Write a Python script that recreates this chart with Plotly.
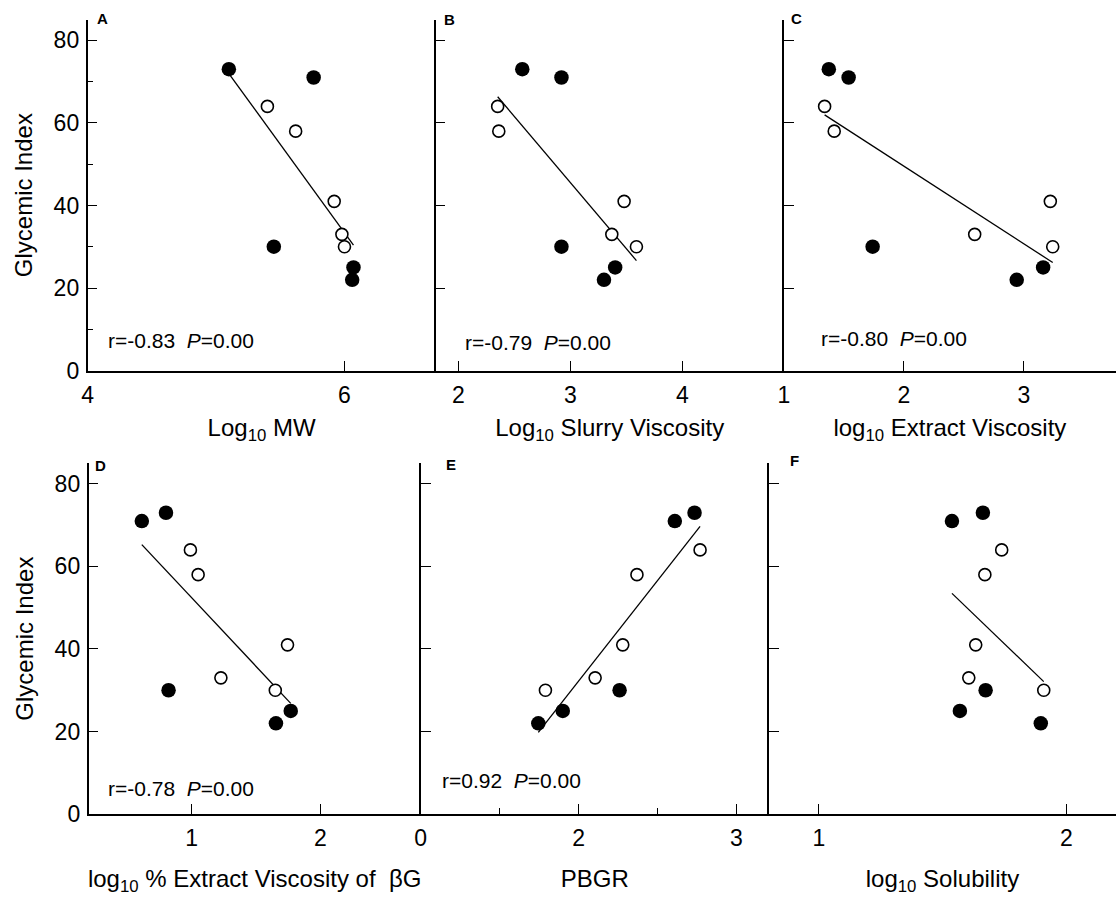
import numpy as np
import plotly.graph_objects as go

# ---------------- data ----------------
gi_filled = [73, 71, 30, 25, 22]
gi_open = [64, 58, 41, 33, 30]

a_filled = [5.10, 5.76, 5.45, 6.07, 6.06]
a_open = [5.40, 5.62, 5.92, 5.98, 6.00]
b_filled = [2.57, 2.92, 2.92, 3.40, 3.30]
b_open = [2.35, 2.36, 3.48, 3.37, 3.59]
c_filled = [1.375, 1.54, 1.74, 3.16, 2.94]
c_open = [1.34, 1.42, 3.22, 2.59, 3.24]
d_filled = [0.80, 0.612, 0.82, 1.77, 1.655]
d_open = [0.99, 1.05, 1.745, 1.227, 1.65]
e_filled = [2.735, 2.61, 2.26, 1.90, 1.745]
e_open = [2.77, 2.37, 2.28, 2.105, 1.79]
f_filled = [1.663, 1.538, 1.674, 1.570, 1.897]
f_open = [1.739, 1.671, 1.634, 1.606, 1.909]

panel_letters = ["A", "B", "C", "D", "E", "F"]
x_titles = ["Log<sub>10</sub> MW", "Log<sub>10</sub> Slurry Viscosity",
            "log<sub>10</sub> Extract Viscosity",
            "log<sub>10</sub> % Extract Viscosity of\u00a0 \u03b2G", "PBGR",
            "log<sub>10</sub> Solubility"]
stats_text = ["r=-0.83\u00a0 <i>P</i>=0.00", "r=-0.79\u00a0 <i>P</i>=0.00",
              "r=-0.80\u00a0 <i>P</i>=0.00", "r=-0.78\u00a0 <i>P</i>=0.00",
              "r=0.92\u00a0 <i>P</i>=0.00", ""]
y_title = "Glycemic Index"
y_ticks_major = [0, 20, 40, 60, 80]
y_ticks_minor = [10, 30, 50, 70]
x_tickvals = [[4, 6], [2, 3, 4], [1, 2, 3], [1, 2], [1.0, 2, 3], [1, 2]]
x_ticktext = [["4", "6"], ["2", "3", "4"], ["1", "2", "3"], ["1", "2"],
              ["0", "2", "3"], ["1", "2"]]
e_minor_ticks = [1.5, 2.5]
x_ranges = [[4.0, 6.71], [1.796, 4.907], [1.0, 3.767],
            [0.198, 2.781], [1.0, 3.206], [0.798, 2.201]]
y_range = [0, 85]

panels_filled = [a_filled, b_filled, c_filled, d_filled, e_filled, f_filled]
panels_open = [a_open, b_open, c_open, d_open, e_open, f_open]

# ---------------- layout geometry (pixels) ----------------
W, H = 1116, 901
FONT = "Liberation Sans, Arial, Helvetica, sans-serif"
col_px = [(82, 432), (432, 782), (782, 1116), (83, 417), (417, 767), (767, 1116)]
row_px = [(20, 376), (20, 376), (20, 376), (470, 826), (470, 826), (470, 826)]
letter_px = [(97, 19), (446, 20), (795, 19), (95, 472), (447, 471), (793, 467)]
stats_px = [(101, 345), (459, 348), (817, 343), (101, 800), (436, 792), (0, 0)]
x_title_standoff = [12, 12, 12, 20, 20, 20]

fig = go.Figure()
layout = dict(
    width=W, height=H, margin=dict(l=0, r=0, t=0, b=0),
    paper_bgcolor="white", plot_bgcolor="white", showlegend=False,
    font=dict(family=FONT, color="black"),
)
annotations = []

for i in range(6):
    n = "" if i == 0 else str(i + 1)
    xa, ya = "x" + n, "y" + n
    xs_f, xs_o = panels_filled[i], panels_open[i]
    # regression line (least squares over all points of the panel)
    allx = np.array(xs_f + xs_o, dtype=float)
    ally = np.array(gi_filled + gi_open, dtype=float)
    slope, icpt = np.polyfit(allx, ally, 1)
    lx = np.array([allx.min(), allx.max()])
    fig.add_trace(go.Scatter(x=lx, y=slope * lx + icpt, mode="lines",
                             line=dict(color="black", width=1.3),
                             xaxis=xa, yaxis=ya, hoverinfo="skip"))
    fig.add_trace(go.Scatter(x=xs_o, y=gi_open, mode="markers",
                             marker=dict(size=12, color="white",
                                         line=dict(color="black", width=1.6)),
                             xaxis=xa, yaxis=ya))
    fig.add_trace(go.Scatter(x=xs_f, y=gi_filled, mode="markers",
                             marker=dict(size=14.5, color="black",
                                         line=dict(width=0)),
                             xaxis=xa, yaxis=ya))

    x0, x1 = col_px[i]
    t, b = row_px[i]
    xaxis = dict(
        domain=[x0 / W, x1 / W], range=x_ranges[i], anchor=ya,
        showline=True, linecolor="black", linewidth=1.5,
        showgrid=False, zeroline=False,
        ticks="inside", ticklen=10, tickwidth=1.3, tickcolor="black",
        tickmode="array", tickvals=x_tickvals[i], ticktext=x_ticktext[i],
        tickfont=dict(size=23, family=FONT, color="black"),
        ticklabelstandoff=3,
        title=dict(text=x_titles[i], font=dict(size=24, family=FONT, color="black"),
                   standoff=x_title_standoff[i]),
    )
    if i == 4:
        xaxis["minor"] = dict(tickvals=e_minor_ticks, ticks="inside", ticklen=6,
                              tickwidth=1.3, tickcolor="black")
    yaxis = dict(
        domain=[1 - b / H, 1 - t / H], range=y_range, anchor=xa,
        showline=True, linecolor="black", linewidth=1.5,
        showgrid=False, zeroline=False,
        ticks="inside", ticklen=10, tickwidth=1.3, tickcolor="black",
        tickmode="array", tickvals=y_ticks_major,
        tickfont=dict(size=23, family=FONT, color="black"),
        showticklabels=(i in (0, 3)),
        ticklabelstandoff=2,
    )
    if i in (0, 3):
        yaxis["title"] = dict(text=y_title, font=dict(size=24, family=FONT, color="black"),
                              standoff=14)
    if i == 0:
        yaxis["minor"] = dict(tickvals=y_ticks_minor, ticks="inside", ticklen=6,
                              tickwidth=1.3, tickcolor="black")
    layout["xaxis" + n] = xaxis
    layout["yaxis" + n] = yaxis

    lx_, ly_ = letter_px[i]
    annotations.append(dict(text="<b>%s</b>" % panel_letters[i], xref="paper", yref="paper",
                            x=lx_ / W, y=1 - ly_ / H, xanchor="center", yanchor="middle",
                            showarrow=False, font=dict(size=15, family=FONT, color="black")))
    if stats_text[i]:
        sx, sy = stats_px[i]
        annotations.append(dict(text=stats_text[i], xref="paper", yref="paper",
                                x=sx / W, y=1 - sy / H, xanchor="left", yanchor="middle",
                                showarrow=False,
                                font=dict(size=21, family=FONT, color="black")))

layout["annotations"] = annotations
fig.update_layout(**layout)
fig.write_html("out.html",
               config={"displayModeBar": False},
               post_script="document.body.style.margin='0px';"
                           "document.body.style.overflow='hidden';")
